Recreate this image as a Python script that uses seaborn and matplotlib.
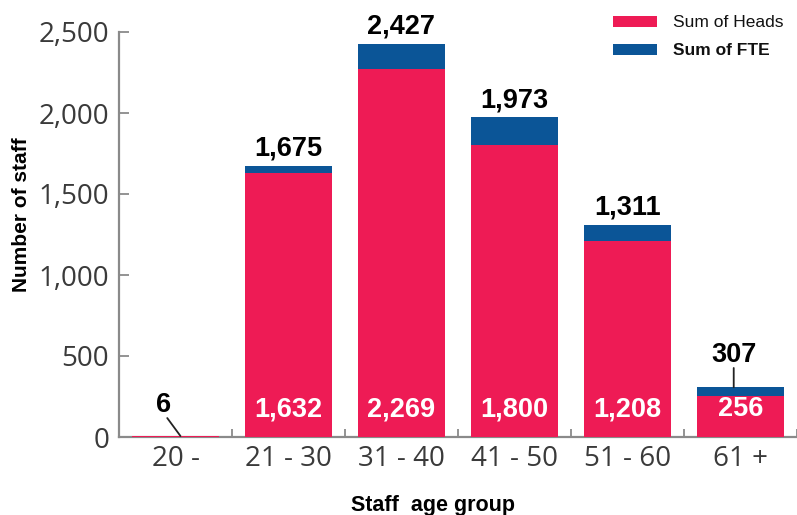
import matplotlib
matplotlib.use("Agg")
import matplotlib.pyplot as plt
import seaborn as sns
import pandas as pd
from matplotlib.ticker import FuncFormatter, FixedLocator
from matplotlib.patches import Patch

# Staff counts by age group
age_groups = ["20 -", "21 - 30", "31 - 40", "41 - 50", "51 - 60", "61 +"]
heads = [6, 1632, 2269, 1800, 1208, 256]
totals = [6, 1675, 2427, 1973, 1311, 307]
y_ticks = [0, 500, 1000, 1500, 2000, 2500]

PINK = "#EE1B55"
BLUE = "#0B5597"
AXIS_GREY = "#8a8a8a"
TICK_TEXT = "#3a3a3a"

df = pd.DataFrame({"group": age_groups, "heads": heads, "total": totals})

sns.set_style("white")
plt.rcParams["font.family"] = ["DejaVu Sans"]

fig = plt.figure(figsize=(7.97, 5.15), dpi=100)
ax = fig.add_axes([119 / 797, 78 / 515, 1 - 119 / 797, 405 / 515])

# Stacked look: full total in blue, heads drawn over it in pink
sns.barplot(data=df, x="group", y="total", order=age_groups, color=BLUE,
            width=0.77, saturation=1, ax=ax, linewidth=0)
sns.barplot(data=df, x="group", y="heads", order=age_groups, color=PINK,
            width=0.77, saturation=1, ax=ax, linewidth=0)
# keep the bars (including the very thin one) above the baseline spine
for patch in ax.patches:
    patch.set_zorder(3)
    patch.set_clip_on(False)

ax.set_xlim(-0.5, 5.5)
ax.set_ylim(0, 2500)

for side in ["top", "right"]:
    ax.spines[side].set_visible(False)
for side in ["left", "bottom"]:
    ax.spines[side].set_color(AXIS_GREY)
    ax.spines[side].set_linewidth(1.6)

ax.set_yticks(y_ticks)
ax.yaxis.set_major_formatter(FuncFormatter(lambda v, p: f"{int(v):,}"))
ax.tick_params(axis="y", left=True, direction="in", length=7, width=1.3,
               color=AXIS_GREY, pad=7, labelsize=20, labelcolor=TICK_TEXT)
for lab in ax.get_yticklabels():
    lab.set_fontfamily("Open Sans")

# category labels at centres, tick marks on the boundaries
ax.tick_params(axis="x", which="major", bottom=True, length=0, pad=6,
               labelsize=20, labelcolor=TICK_TEXT)
for lab in ax.get_xticklabels():
    lab.set_fontfamily("Open Sans")
ax.xaxis.set_minor_locator(FixedLocator([i - 0.5 for i in range(len(age_groups) + 1)]))
ax.tick_params(axis="x", which="minor", bottom=True, direction="in", length=6,
               width=1.3, color=AXIS_GREY)

ax.set_xlabel("")
ax.set_ylabel("")
fig.text(22 / 797, 1 - 215 / 515, "Number of staff", rotation=90, ha="center",
         va="center", fontsize=15, fontweight="bold", family="Liberation Sans",
         color="black")
fig.text(433 / 797, 1 - 505 / 515, "Staff  age group", ha="center", va="center",
         fontsize=15.5, fontweight="bold", family="Liberation Sans", color="black")

num_font = dict(family="Liberation Sans", fontweight="bold", fontsize=19.5, zorder=5)

# totals above bars, heads inside
for i, (h, t) in enumerate(zip(heads, totals)):
    if 0 < i < len(age_groups) - 1:
        ax.annotate(f"{t:,}", (i, t), xytext=(0, 3), textcoords="offset points",
                    ha="center", va="bottom", color="black",
                    annotation_clip=False, **num_font)
    if i > 0:
        ax.text(i, 170, f"{h:,}", ha="center", va="center", color="white",
                **num_font)

# small bars: label set off with a leader line
leader = dict(arrowstyle="-", color="#222222", lw=1.3, shrinkA=0, shrinkB=0)
ax.text(-0.11, 197, f"{totals[0]:,}", ha="center", va="center", color="black",
        **num_font)
ax.annotate("", xy=(0.044, totals[0]), xytext=(-0.073, 117), arrowprops=leader,
            zorder=5)

last = len(age_groups) - 1
ax.text(last - 0.06, 506, f"{totals[last]:,}", ha="center", va="center",
        color="black", **num_font)
ax.annotate("", xy=(last - 0.06, totals[last]), xytext=(last - 0.06, 426),
            arrowprops=leader, zorder=5)

handles = [Patch(facecolor=PINK, edgecolor="none"), Patch(facecolor=BLUE, edgecolor="none")]
leg = fig.legend(handles, ["Sum of Heads", "Sum of FTE"], loc="upper left",
                 bbox_to_anchor=(610 / 797, 1 - 12 / 515), frameon=False,
                 prop=dict(family="Liberation Sans", size=12.5),
                 handlelength=2.5, handleheight=0.65, handletextpad=0.95,
                 labelspacing=0.75, borderpad=0.2, borderaxespad=0)
leg.get_texts()[1].set_fontweight("bold")
for t in leg.get_texts():
    t.set_color("#111111")

fig.savefig("out.png", dpi=100)
